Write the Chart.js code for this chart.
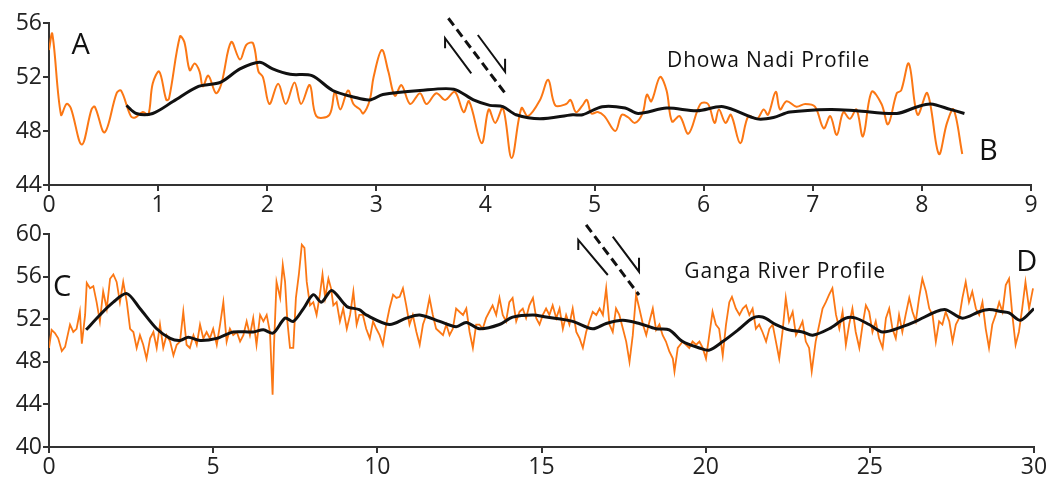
<!DOCTYPE html>
<html>
<head>
<meta charset="utf-8">
<script src="https://cdn.jsdelivr.net/npm/chart.js@4.4.1/dist/chart.umd.min.js"></script>
<style>
  html, body { margin: 0; padding: 0; background: #fff; }
  #wrap { position: relative; width: 1058px; height: 482px; overflow: hidden; }
  .panel { position: absolute; left: 0; width: 1058px; }
  #p1 { top: 0; height: 230px; }
  #p2 { top: 212px; height: 270px; }
</style>
</head>
<body>
<div id="wrap">
  <div class="panel" id="p1"><canvas id="dhowa-chart"></canvas></div>
  <div class="panel" id="p2"><canvas id="ganga-chart"></canvas></div>
</div>
<script>
// Dhowa Nadi profile (distance, elevation)
const dhowaRawX = [0, 0.03, 0.11, 0.16, 0.20, 0.30, 0.39, 0.42, 0.51, 0.62, 0.66, 0.75, 0.79, 0.86, 0.91, 0.95, 1.01, 1.075, 1.10,
  1.20, 1.24, 1.29, 1.335, 1.38, 1.41, 1.46, 1.53, 1.58, 1.67, 1.75, 1.81, 1.87, 1.92, 1.96, 2.02, 2.10, 2.17, 2.25, 2.31, 2.39,
  2.45, 2.57, 2.62, 2.67, 2.74, 2.79, 2.85, 2.88, 2.94, 2.975, 3.05, 3.11, 3.17, 3.23, 3.31, 3.40, 3.46, 3.55, 3.63, 3.72, 3.80,
  3.85, 3.965, 4.03, 4.09, 4.16, 4.24, 4.33, 4.39, 4.50, 4.575, 4.64, 4.74, 4.78, 4.83, 4.89, 4.93, 4.97, 5.03, 5.09, 5.19, 5.25,
  5.31, 5.37, 5.44, 5.48, 5.52, 5.60, 5.66, 5.71, 5.78, 5.86, 5.97, 6.04, 6.10, 6.14, 6.20, 6.25, 6.335, 6.41, 6.49, 6.55, 6.59,
  6.66, 6.70, 6.76, 6.85, 6.93, 7.02, 7.10, 7.16, 7.22, 7.28, 7.34, 7.40, 7.46, 7.54, 7.63, 7.69, 7.77, 7.81, 7.88, 7.96, 8.05,
  8.155, 8.23, 8.29, 8.37];
const dhowaRawY = [54.0, 55.2, 49.2, 50.0, 49.7, 47.0, 49.6, 49.8, 47.9, 50.8, 51.0, 49.1, 49.0, 49.4, 49.2, 51.5, 52.4, 50.3, 50.4,
  55.0, 54.6, 52.5, 53.0, 52.4, 51.3, 52.1, 50.8, 51.5, 54.6, 53.3, 54.4, 54.5, 52.4, 52.0, 50.0, 51.5, 50.0, 51.6, 50.0, 51.4,
  49.1, 49.2, 50.9, 49.6, 51.0, 50.0, 49.6, 49.3, 50.3, 52.0, 54.0, 52.4, 50.6, 51.4, 50.0, 50.8, 50.0, 50.8, 50.3, 50.9, 49.4,
  50.2, 47.1, 49.6, 48.6, 49.7, 46.0, 49.7, 49.1, 50.3, 51.8, 49.9, 50.0, 50.3, 49.4, 49.9, 50.3, 49.3, 49.4, 49.1, 48.0, 49.2,
  49.0, 48.6, 49.3, 50.7, 50.2, 52.0, 51.0, 48.7, 49.1, 47.8, 50.0, 50.0, 48.6, 49.6, 48.6, 49.2, 47.1, 49.1, 48.9, 49.6, 49.2,
  50.9, 49.6, 50.2, 49.8, 50.0, 49.8, 48.2, 49.1, 47.7, 49.4, 48.9, 49.6, 47.6, 50.9, 50.0, 48.5, 50.8, 51.0, 53.0, 49.2, 50.8,
  46.3, 48.6, 49.6, 46.3];
const dhowaTrendX = [0.71, 0.80, 0.95, 1.14, 1.37, 1.57, 1.75, 1.93, 2.05, 2.21, 2.41, 2.60, 2.80, 2.94, 3.06, 3.40, 3.71, 3.89,
  4.04, 4.16, 4.28, 4.50, 4.80, 4.89, 5.07, 5.28, 5.40, 5.66, 5.94, 6.18, 6.49, 6.64, 6.79, 7.16, 7.40, 7.77, 7.96, 8.08, 8.26, 8.39];
const dhowaTrendY = [49.9, 49.3, 49.3, 50.2, 51.3, 51.6, 52.6, 53.1, 52.6, 52.2, 52.1, 51.0, 50.5, 50.3, 50.7, 51.0, 51.1, 50.3,
  49.9, 49.8, 49.2, 48.9, 49.2, 49.2, 49.8, 49.7, 49.3, 49.7, 49.5, 49.8, 48.9, 49.0, 49.4, 49.6, 49.5, 49.3, 49.8, 50.0, 49.6, 49.3];

// Ganga River profile
const gangaRawX = [0, 0.08, 0.18, 0.28, 0.39, 0.49, 0.64, 0.74, 0.84, 0.94, 1.00, 1.10, 1.15, 1.25, 1.35, 1.45, 1.55, 1.65, 1.76,
  1.86, 1.96, 2.06, 2.16, 2.26, 2.37, 2.47, 2.57, 2.67, 2.77, 2.87, 2.97, 3.08, 3.18, 3.28, 3.38, 3.48, 3.58, 3.69, 3.79, 3.89,
  3.99, 4.09, 4.19, 4.29, 4.40, 4.50, 4.60, 4.70, 4.80, 4.90, 5.00, 5.11, 5.21, 5.31, 5.41, 5.51, 5.61, 5.72, 5.82, 5.92, 6.02,
  6.12, 6.22, 6.32, 6.43, 6.53, 6.63, 6.73, 6.81, 6.85, 6.93, 7.04, 7.12, 7.19, 7.26, 7.34, 7.44, 7.52, 7.61, 7.70, 7.78, 7.85,
  7.95, 8.05, 8.15, 8.25, 8.33, 8.41, 8.51, 8.59, 8.66, 8.76, 8.86, 8.96, 9.07, 9.17, 9.27, 9.37, 9.45,
  9.56, 9.66, 9.77, 9.87, 9.97, 10.07, 10.17, 10.27, 10.37, 10.48, 10.58, 10.68, 10.78, 10.88, 10.98, 11.08, 11.19, 11.29, 11.39,
  11.49, 11.59, 11.69, 11.79, 11.90, 12.00, 12.10, 12.20, 12.30, 12.40, 12.50, 12.61, 12.71, 12.81, 12.91, 13.01, 13.11, 13.21,
  13.31, 13.41, 13.51, 13.62, 13.72, 13.82, 13.92, 14.02, 14.12, 14.23, 14.33, 14.43, 14.53, 14.63, 14.74, 14.84, 14.94, 15.04,
  15.14, 15.24, 15.34, 15.45, 15.55, 15.65, 15.75, 15.85, 15.95, 16.06, 16.16, 16.26, 16.36, 16.46, 16.56, 16.67, 16.77, 16.87,
  16.97, 17.07, 17.17, 17.27, 17.37, 17.48, 17.58, 17.68, 17.78, 17.88, 17.98, 18.09, 18.19, 18.29, 18.39, 18.49, 18.59, 18.69,
  18.79, 18.89, 19.00, 19.05, 19.15, 19.30,
  19.50, 19.60, 19.71, 19.81, 19.91, 20.01, 20.11, 20.21, 20.31, 20.41, 20.52, 20.62, 20.72, 20.80, 20.92, 21.03, 21.13, 21.23,
  21.33, 21.43, 21.53, 21.63, 21.73, 21.84, 21.94, 22.04, 22.14, 22.24, 22.34, 22.44, 22.54, 22.65, 22.75, 22.85, 22.95, 23.05,
  23.15, 23.23, 23.35, 23.46, 23.56, 23.66, 23.76, 23.86, 23.97, 24.07, 24.17, 24.27, 24.37, 24.47, 24.57, 24.68, 24.78, 24.88,
  24.98, 25.08, 25.18, 25.28, 25.39, 25.49, 25.59, 25.69, 25.79, 25.89, 25.99, 26.09, 26.20, 26.30, 26.40, 26.50, 26.60, 26.71,
  26.81, 26.91, 27.01, 27.11, 27.21, 27.31, 27.42, 27.52, 27.62, 27.72, 27.82, 27.92, 28.02, 28.12, 28.23, 28.33, 28.43, 28.53,
  28.63, 28.73, 28.83, 28.94, 29.04, 29.14, 29.24, 29.34, 29.44, 29.54, 29.64, 29.74, 29.85, 29.97];
const gangaRawY = [49.3, 51.0, 50.7, 50.2, 49.0, 49.4, 51.5, 50.8, 51.1, 52.7, 49.7, 52.4, 55.4, 54.9, 55.1, 53.6, 51.8, 54.6, 53.0,
  55.8, 56.2, 55.5, 53.6, 55.5, 53.6, 51.1, 50.8, 49.3, 50.5, 49.6, 48.3, 50.2, 50.8, 49.3, 51.5, 49.3, 50.5, 49.9, 48.6, 49.6,
  49.9, 52.7, 49.6, 49.3, 50.5, 49.6, 51.5, 50.2, 50.8, 50.2, 51.1, 49.6, 51.5, 53.6, 49.9, 51.1, 50.5, 50.8, 49.9, 50.5, 51.8,
  50.5, 52.1, 49.6, 52.4, 51.8, 52.4, 50.8, 44.9, 49.3, 55.5, 54.0, 57.1, 55.5, 51.8, 49.3, 49.3, 54.0, 56.2, 59.0, 58.7, 55.5,
  53.3, 53.6, 52.4, 54.3, 56.2, 54.0, 55.8, 54.9, 53.3, 53.6, 51.8, 53.0, 51.1, 52.4, 54.6, 51.5, 52.4,
  52.4, 51.1, 50.2, 51.8, 51.1, 50.5, 49.6, 51.5, 53.0, 54.3, 54.0, 54.1, 54.9, 53.3, 51.5, 52.4, 50.8, 49.6, 51.5,
  52.4, 54.0, 52.4, 51.1, 50.8, 50.5, 51.5, 50.5, 51.1, 53.0, 52.7, 52.4, 53.0, 50.8, 49.3, 51.5, 51.5, 51.1,
  52.1, 52.7, 53.3, 52.4, 54.0, 52.4, 51.8, 53.6, 54.0, 51.8, 52.7, 53.0, 52.1, 53.3, 54.0, 52.1, 51.5, 52.4,
  53.0, 52.4, 53.3, 52.1, 53.0, 51.1, 52.4, 51.5, 53.0, 50.8, 50.2, 49.3, 50.8, 51.8, 52.7, 52.4, 53.0, 52.4,
  54.9, 51.5, 50.8, 53.0, 52.4, 51.1, 49.9, 48.0, 50.5, 54.3, 53.0, 51.5, 50.5, 51.8, 53.0, 51.0, 51.5, 50.5,
  49.9, 49.0, 48.3, 47.1, 49.3, 49.9,
  49.3, 49.9, 49.6, 49.9, 49.3, 48.3, 50.5, 52.7, 51.5, 51.1, 48.6, 51.5, 53.6, 54.1, 53.0, 52.4, 53.0, 53.3,
  52.4, 53.0, 51.1, 51.5, 50.8, 49.9, 51.1, 51.5, 49.9, 48.3, 50.8, 54.0, 51.8, 52.7, 50.5, 51.1, 51.8, 49.9,
  49.3, 47.1, 49.9, 51.5, 53.0, 53.6, 54.3, 54.9, 52.4, 51.1, 52.7, 49.6, 51.5, 53.0, 50.8, 49.3, 51.5, 53.3,
  52.7, 50.8, 51.8, 50.2, 49.3, 52.1, 53.0, 51.1, 50.2, 52.4, 50.8, 52.4, 54.0, 52.7, 51.8, 54.0, 55.8, 54.6,
  53.0, 52.4, 49.9, 51.8, 51.5, 52.7, 51.8, 49.9, 51.5, 52.1, 54.0, 55.5, 53.6, 54.6, 53.0, 52.4, 53.6, 51.1,
  49.3, 51.5, 52.4, 53.6, 52.7, 55.2, 55.8, 52.4, 49.6, 50.8, 53.0, 55.5, 53.0, 54.9];
const gangaTrendX = [1.13, 1.55, 1.96, 2.37, 2.77, 3.28, 3.69, 3.99, 4.24, 4.60, 5.11, 5.61, 6.22, 6.53, 6.83, 7.19, 7.44, 7.75,
  8.05, 8.30, 8.61, 9.07, 9.45, 9.66, 10.37, 10.88, 11.29, 11.90, 12.40, 12.71, 13.11, 13.72, 14.12, 14.74, 15.14, 15.95, 16.56,
  16.97, 17.48, 17.98, 18.49, 18.89, 19.30, 19.81, 20.11, 20.52, 21.03, 21.43, 21.73, 22.14, 22.54, 22.95, 23.26, 23.76, 24.27,
  24.57, 24.98, 25.39, 25.99, 26.40, 27.01, 27.31, 27.82, 28.33, 28.63, 29.04, 29.24, 29.59, 30.00];
const gangaTrendY = [51.0, 52.4, 53.6, 54.4, 53.0, 51.1, 50.2, 50.0, 50.3, 50.0, 50.2, 50.8, 50.8, 51.0, 50.7, 52.1, 51.8, 53.0,
  54.3, 53.6, 54.7, 53.2, 52.9, 52.4, 51.5, 52.1, 52.4, 51.8, 51.3, 51.7, 51.1, 51.5, 52.2, 52.4, 52.2, 51.8, 51.1,
  51.6, 51.9, 51.6, 51.1, 51.0, 49.9, 49.3, 49.1, 49.9, 51.1, 52.1, 52.2, 51.5, 51.0, 50.8, 50.5, 51.1, 52.1,
  52.1, 51.5, 50.8, 51.3, 51.8, 52.7, 52.9, 52.1, 52.7, 52.9, 52.7, 52.6, 51.9, 53.0];

const dhowaYTicks = [44, 48, 52, 56];
const gangaYTicks = [40, 44, 48, 52, 56, 60];

const ORANGE = '#fb7714';
const AXIS = '#333';
const FONT = 'Open Sans';

const toPoints = (xs, ys) => xs.map((x, i) => ({ x: x, y: ys[i] }));

// draws the profile letters, the titles and the fault symbol
const notesPlugin = {
  id: 'notes',
  afterDraw(chart, args, opts) {
    const ctx = chart.ctx;
    const xs = chart.scales.x, ys = chart.scales.y;
    const px = v => xs.getPixelForValue(v);
    const py = v => ys.getPixelForValue(v);
    ctx.save();
    ctx.fillStyle = '#111';
    ctx.textBaseline = 'middle';
    (opts.letters || []).forEach(l => {
      ctx.font = '29px "' + FONT + '"';
      ctx.textAlign = 'center';
      ctx.fillText(l.text, px(l.x), py(l.y));
    });
    if (opts.title) {
      ctx.font = '21px "' + FONT + '"';
      ctx.letterSpacing = '0.8px';
      ctx.textAlign = 'left';
      ctx.fillText(opts.title.text, px(opts.title.x), py(opts.title.y));
      ctx.letterSpacing = '0px';
    }
    const f = opts.fault;
    if (f) {
      ctx.strokeStyle = '#111';
      ctx.lineCap = 'butt';
      ctx.lineWidth = 3;
      ctx.setLineDash([9, 5]);
      ctx.beginPath();
      ctx.moveTo(px(f.dash[0]), py(f.dash[1]));
      ctx.lineTo(px(f.dash[2]), py(f.dash[3]));
      ctx.stroke();
      ctx.setLineDash([]);
      ctx.lineWidth = 2;
      [f.left, f.right].forEach(a => {
        ctx.beginPath();
        ctx.moveTo(px(a[0]), py(a[1]) + a[4]);
        ctx.lineTo(px(a[0]), py(a[1]));
        ctx.lineTo(px(a[2]), py(a[3]));
        ctx.stroke();
      });
    }
    ctx.restore();
  }
};

function panelScales(xMax, xStep, yTicks, xHeight) {
  const grid = { drawOnChartArea: false, drawTicks: true, tickLength: 6, color: AXIS, lineWidth: 2 };
  const border = { display: true, color: AXIS, width: 2 };
  const font = { family: FONT, size: 23 };
  return {
    x: {
      type: 'linear', min: 0, max: xMax,
      grid: grid, border: border,
      ticks: { stepSize: xStep, color: '#222', font: font, padding: 1, maxRotation: 0 },
      afterFit: s => { s.height = xHeight; }
    },
    y: {
      type: 'linear', min: yTicks[0], max: yTicks[yTicks.length - 1],
      grid: grid, border: border,
      ticks: { stepSize: yTicks[1] - yTicks[0], color: '#222', font: font, padding: 1 },
      afterFit: s => { s.width = 49; }
    }
  };
}

function makeProfile(canvasId, raw, trend, rawTension, rawWidth, scales, padding, notes) {
  return new Chart(document.getElementById(canvasId), {
    type: 'line',
    data: {
      datasets: [
        { data: trend, borderColor: '#111', borderWidth: 3, pointRadius: 0, tension: 0.3, fill: false },
        { data: raw, borderColor: ORANGE, borderWidth: rawWidth, pointRadius: 0, tension: rawTension, fill: false }
      ]
    },
    options: {
      responsive: true,
      maintainAspectRatio: false,
      animation: false,
      layout: { padding: padding },
      scales: scales,
      plugins: { legend: { display: false }, tooltip: { enabled: false }, notes: notes }
    },
    plugins: [notesPlugin]
  });
}

makeProfile('dhowa-chart', toPoints(dhowaRawX, dhowaRawY), toPoints(dhowaTrendX, dhowaTrendY), 0.35, 2,
  panelScales(9, 1, dhowaYTicks, 30),
  { left: 0, top: 23, right: 27, bottom: 15 },
  {
    letters: [{ text: 'A', x: 0.29, y: 54.3 }, { text: 'B', x: 8.61, y: 46.5 }],
    title: { text: 'Dhowa Nadi Profile', x: 5.665, y: 53.2 },
    fault: {
      dash: [3.66, 56.35, 4.18, 50.8],
      left: [3.63, 54.87, 3.87, 52.27, 10],
      right: [4.18, 52.39, 3.93, 55.11, -13]
    }
  });

makeProfile('ganga-chart', toPoints(gangaRawX, gangaRawY), toPoints(gangaTrendX, gangaTrendY), 0, 1.8,
  panelScales(30, 5, gangaYTicks, 30),
  { left: 0, top: 22, right: 24, bottom: 5 },
  {
    letters: [{ text: 'C', x: 0.40, y: 55.0 }, { text: 'D', x: 29.78, y: 57.3 }],
    title: { text: 'Ganga River Profile', x: 19.35, y: 56.4 },
    fault: {
      dash: [16.36, 60.85, 17.97, 54.27],
      left: [16.12, 59.44, 17.02, 56.15, 10],
      right: [17.97, 56.46, 17.17, 59.75, -14]
    }
  });
</script>
</body>
</html>
